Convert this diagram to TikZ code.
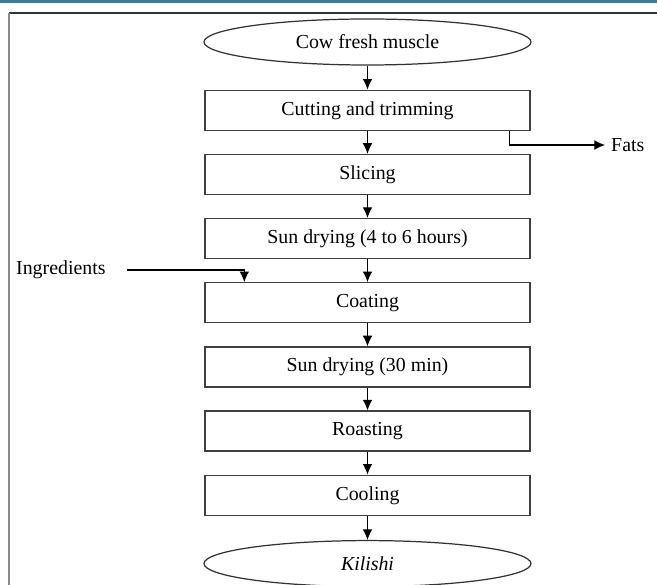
\documentclass[tikz,border=0pt]{standalone}
\usepackage{fontspec}
\setmainfont{Liberation Serif}
\usepackage{tikz}
\usetikzlibrary{positioning, shapes.geometric, arrows, arrows.meta}

\begin{document}
\begin{tikzpicture}[node distance=0.455cm, >=latex]
      \tikzstyle{startstop} = [ellipse, minimum width=6.54cm, minimum height=0.92cm, text centered, draw=black!80, line width=0.7pt, font=\fontsize{11.3}{13}\selectfont]
      \tikzstyle{process} = [rectangle, minimum width=6.5cm, minimum height=0.8cm, text centered, draw=black!75, line width=0.8pt, font=\fontsize{11.3}{13}\selectfont]
      \tikzstyle{label} = [font=\fontsize{11.3}{13}\selectfont]
      \tikzstyle{arrow} = [line width=0.6pt, -{Latex[length=6pt, width=5.5pt]}]

      % page frame
      \useasboundingbox (0,0) rectangle (13.14,-11.7);
      \fill [fill={rgb,255:red,64;green,122;blue,155}] (0,0) rectangle (13.14,-0.06);
      \draw [line width=0.9pt, black!80] (0.18,-0.26) -- (13.14,-0.26);
      \draw [line width=0.9pt, black!45] (0.18,-0.26) -- (0.18,-11.7);

      \node (muscle) [startstop] at (7.35,-0.84) {Cow fresh muscle};
      \node (cutting) [process, below= 0.48cm of muscle] {Cutting and trimming};
      \node (slicing) [process, below= of cutting] {Slicing};
      \node (sundry) [process, below= of slicing] {Sun drying (4 to 6 hours)};
      \node (coating) [process, below= of sundry] {Coating};
      \node (sundryII) [process, below= of coating] {Sun drying (30 min)};
      \node (roasting) [process, below= of sundryII] {Roasting};
      \node (cooling) [process, below= of roasting] {Cooling};
      \node (kilishi) [startstop, below= 0.48cm of cooling] {\textit{Kilishi}};

      \draw [arrow] (muscle) -- (cutting);
      \draw [arrow] (cutting) -- (slicing);
      \draw [arrow] (slicing) -- (sundry);
      \draw [arrow] (sundry) -- (coating);
      \draw [arrow] (coating) -- (sundryII);
      \draw [arrow] (sundryII) -- (roasting);
      \draw [arrow] (roasting) -- (cooling);
      \draw [arrow] (cooling) -- (kilishi);

      \node (fats) [label, anchor=west] at (12.1,-2.9) {Fats};
      \node (ingredients) [label, anchor=west] at (0.2,-5.4) {Ingredients};

      \draw [arrow] ([xshift=-0.42cm]cutting.south east) |- (fats.west);
      \draw [arrow] ([xshift=0.3cm]ingredients.east) -| ([xshift=0.8cm]coating.north west);

    \end{tikzpicture}
\end{document}
